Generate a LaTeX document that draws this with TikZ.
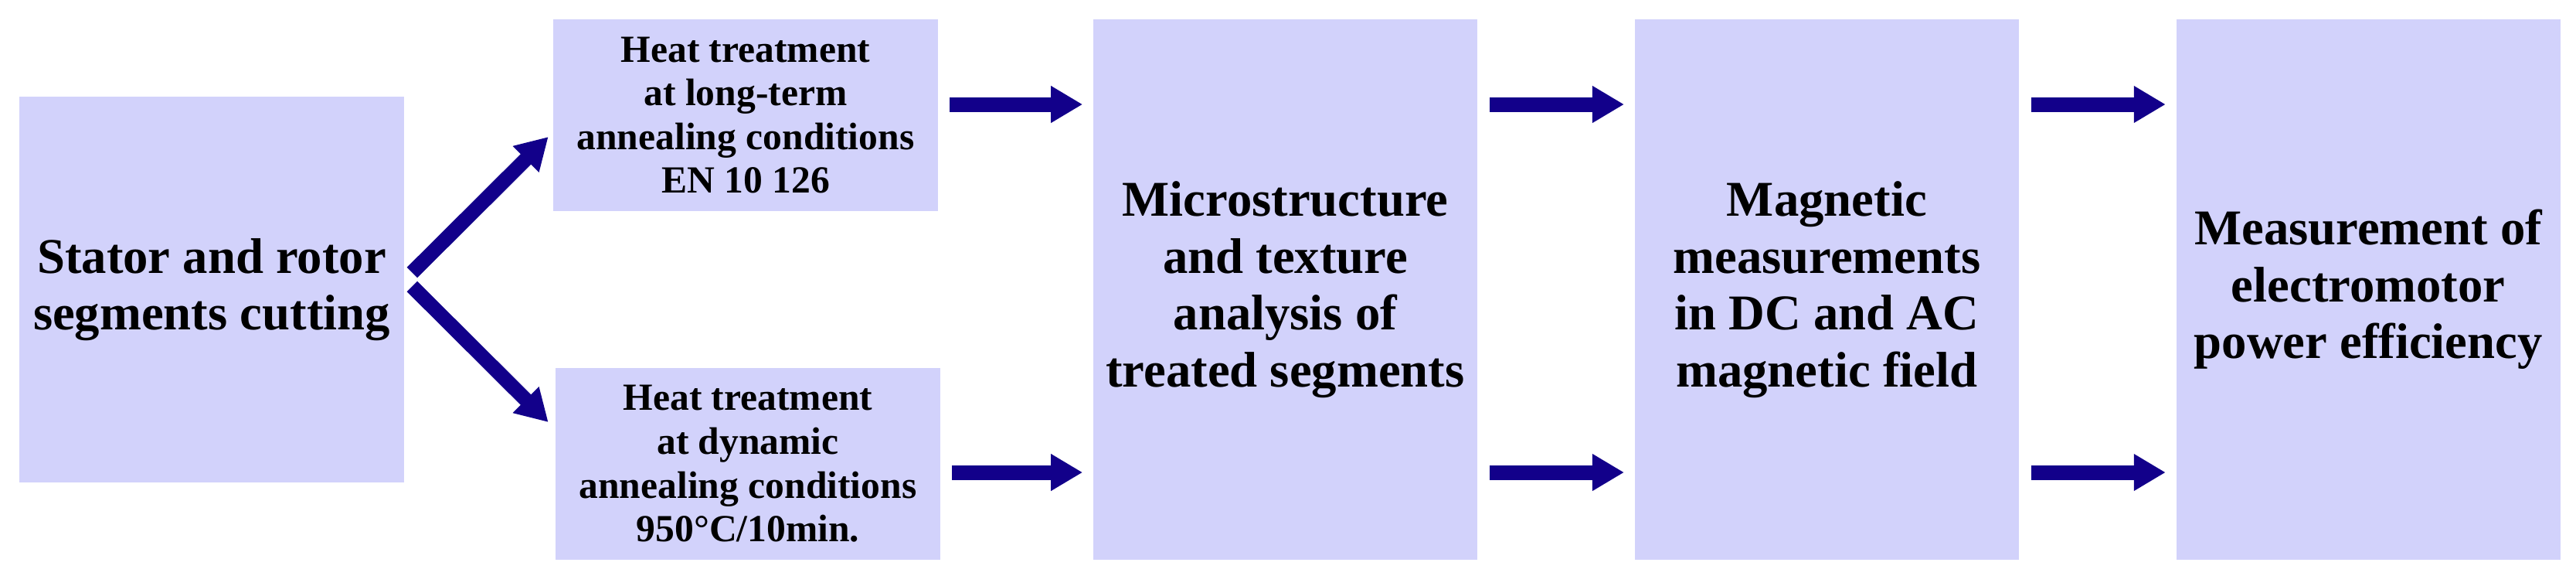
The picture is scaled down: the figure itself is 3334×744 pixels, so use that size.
\documentclass[tikz,border=0pt]{standalone}
\usepackage{fontspec}
\setmainfont{Liberation Serif}
\usepackage{xcolor}
\definecolor{cFill}{HTML}{D2D2FB}
\definecolor{cArrow}{HTML}{12008A}
\usepackage{tikz}
\usetikzlibrary{positioning,arrows.meta}
\tikzset{
  node-box/.style={fill=cFill,inner sep=0pt,align=center,minimum width=4.97cm,
    font=\bfseries\fontsize{18.4}{20.9}\selectfont},
  node-small/.style={node-box,minimum height=2.48cm,
    font=\bfseries\fontsize{14.1}{16.1}\selectfont},
  node-tall/.style={node-box,minimum height=6.99cm},
  arrow/.style={-{Triangle[length=4.1mm,width=4.5mm]},line width=1.9mm,draw=cArrow},
  arrow-row/.style={arrow,shorten <=1.5mm,shorten >=1.3mm},
}

\begin{document}
\begin{tikzpicture}[x=0.01cm,y=-0.01cm,node distance=2.02cm]
  \useasboundingbox (0,0) rectangle (3334,744);
  \coordinate (rowA) at (0,135);
  \coordinate (rowB) at (0,611);
  \node[node-box,minimum height=4.98cm] (cut) at (274,374.5) {Stator and rotor\\segments cutting};
  \node[node-small] (long) at (965,149) {Heat treatment\\at long-term\\annealing conditions\\EN 10 126};
  \node[node-small] (dyn) at (968,600) {Heat treatment\\at dynamic\\annealing conditions\\950°C/10min.};
  \node[node-tall] (micro) at (1663.5,374.5) {Microstructure\\and texture\\analysis of\\treated segments};
  \node[node-tall,right=of micro] (magn) {Magnetic\\measurements\\in DC and AC\\magnetic field};
  \node[node-tall,right=of magn] (power) {Measurement of\\electromotor\\power efficiency};
  \draw[arrow] ([shift={(10,-22)}]cut.east) -- ([shift={(-6,28)}]long.west);
  \draw[arrow] ([shift={(10,-4)}]cut.east) -- ([shift={(-9,-54)}]dyn.west);
  \draw[arrow-row] (long.east |- rowA) -- (micro.west |- rowA);
  \draw[arrow-row] (dyn.east |- rowB) -- (micro.west |- rowB);
  \draw[arrow-row] (micro.east |- rowA) -- (magn.west |- rowA);
  \draw[arrow-row] (micro.east |- rowB) -- (magn.west |- rowB);
  \draw[arrow-row] (magn.east |- rowA) -- (power.west |- rowA);
  \draw[arrow-row] (magn.east |- rowB) -- (power.west |- rowB);
\end{tikzpicture}
\end{document}
